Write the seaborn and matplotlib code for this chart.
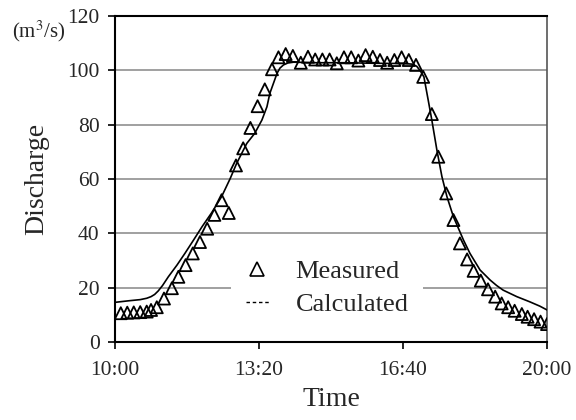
import numpy as np
import pandas as pd
import matplotlib
matplotlib.use("Agg")
import matplotlib.pyplot as plt
import seaborn as sns
from matplotlib.lines import Line2D

# minutes after 10:00
measured_min = [8, 17, 26, 35, 44, 50, 58, 68, 79, 88, 98, 108, 118, 128, 138, 148, 158,
                168, 178, 188, 198, 208, 218, 227, 237, 247, 258, 268, 278, 288, 298, 308,
                318, 328, 338, 348, 358, 368, 378, 388, 398, 408, 418, 428, 440, 449, 460,
                470, 479, 489, 498, 508, 518, 528, 537, 546, 555, 565, 573, 582, 591, 600]
measured_q = [10.6, 10.8, 10.9, 11.0, 11.2, 11.8, 12.8, 16.0, 19.8, 24.0, 28.3, 32.6, 36.8,
              41.7, 46.8, 52.2, 47.5, 65.0, 71.3, 78.8, 86.8, 93.0, 100.4, 104.8, 106.0,
              105.3, 102.8, 105.0, 104.0, 104.0, 104.0, 102.6, 104.8, 104.8, 103.6, 105.6,
              105.0, 103.8, 102.8, 103.8, 104.8, 103.8, 102.0, 97.6, 83.9, 68.2, 54.7, 44.9,
              36.3, 30.4, 26.2, 22.6, 19.4, 16.7, 14.2, 12.8, 11.5, 10.3, 9.3, 8.4, 7.5, 6.6]

calc_min = [0, 20, 35, 44, 50, 55, 60, 66, 74, 86, 97, 109, 121, 134, 148, 160, 169, 183,
            194, 204, 211, 215, 225, 229, 234, 240, 248, 280, 320, 360, 400, 412, 419, 424,
            429, 435, 440, 447, 454, 461, 470, 484, 493, 507, 521, 530, 539, 558, 576, 590,
            600]
calc_q = [14.6, 15.2, 15.6, 16.1, 16.7, 17.5, 18.8, 20.8, 24.0, 28.3, 32.6, 37.5, 42.5,
          47.5, 53.5, 60.2, 65.8, 73.1, 76.8, 81.7, 86.6, 91.5, 98.9, 100.8, 102.0, 102.7,
          103.0, 102.8, 102.8, 102.6, 102.5, 102.3, 101.5, 99.8, 97.6, 89.0, 81.7, 70.7,
          60.9, 53.5, 46.1, 37.5, 32.6, 26.5, 22.8, 20.8, 19.1, 16.7, 14.8, 13.2, 11.8]

xtick_pos = [0, 200, 400, 600]
xtick_labels = ["10:00", "13:20", "16:40", "20:00"]
ytick_pos = [0, 20, 40, 60, 80, 100, 120]

sns.set_style("white")
plt.rcParams["font.family"] = ["Liberation Serif", "DejaVu Serif"]
plt.rcParams["mathtext.fontset"] = "stix"

meas = pd.DataFrame({"t": measured_min, "q": measured_q})
calc = pd.DataFrame({"t": calc_min, "q": calc_q})

fig = plt.figure(figsize=(5.76, 4.2), dpi=100)
ax = fig.add_axes([0.1997, 0.1857, 0.75, 0.7762])

sns.lineplot(data=calc, x="t", y="q", color="black", linewidth=1.2, ax=ax, zorder=3)
sns.scatterplot(data=meas, x="t", y="q", marker="^", s=75, facecolor="none",
                edgecolor="black", linewidth=1.3, ax=ax, zorder=4)

ax.set_xlim(0, 600)
ax.set_ylim(0, 120)
ax.set_xticks(xtick_pos)
ax.set_xticklabels(xtick_labels)
ax.set_yticks(ytick_pos)
ax.yaxis.grid(True, color="#999999", linewidth=1.3)
ax.set_axisbelow(True)
for side in ["left", "bottom", "top"]:
    ax.spines[side].set_color("black")
    ax.spines[side].set_linewidth(1.5)
ax.spines["right"].set_color("#555555")
ax.spines["right"].set_linewidth(1.2)
ax.tick_params(axis="both", direction="out", length=5, width=1.2, color="black",
               labelsize=15.5, pad=6, left=True, bottom=True)
ax.tick_params(axis="x", pad=9)

ax.set_xlabel("Time", fontsize=20, labelpad=5)
ax.set_ylabel("Discharge", fontsize=20, labelpad=13)
fig.text(0.020, 0.925, "(m$^{3}$/s)", fontsize=15, ha="left", va="center")

handles = [Line2D([], [], marker="^", ls="none", mfc="none", mec="black", ms=10, mew=1.2),
           Line2D([], [], ls=(0, (2.5, 2)), color="black", lw=1.0)]
leg = ax.legend(handles, ["Measured", "Calculated"], loc="center",
                bbox_to_anchor=(0.491, 0.166), fontsize=19, frameon=True,
                handlelength=0.9, handletextpad=1.0, labelspacing=0.35,
                borderpad=0.55, borderaxespad=0)
leg.get_frame().set_facecolor("white")
leg.get_frame().set_edgecolor("none")
leg.get_frame().set_alpha(1)

fig.savefig("out.png", dpi=100)
